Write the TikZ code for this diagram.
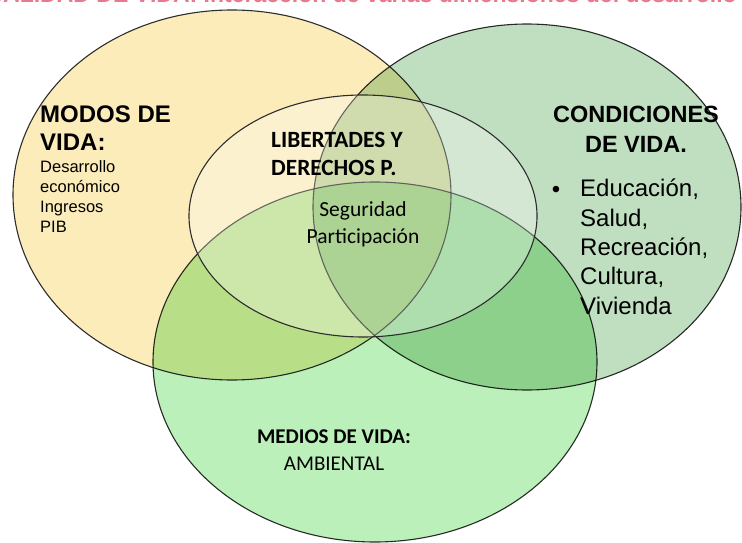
\documentclass[tikz,border=0pt]{standalone}
\usepackage{fontspec}
\setmainfont{Liberation Sans}
\newfontfamily\calibri{Carlito}
\definecolor{modosfill}{RGB}{252,236,186}
\definecolor{condfill}{RGB}{192,222,192}
\definecolor{mediosfill}{RGB}{187,240,187}
\definecolor{titlepink}{RGB}{232,120,140}
\definecolor{vennline}{RGB}{45,45,45}

\begin{document}
\begin{tikzpicture}[x=1pt,y=-1pt,
	venn/.style = {draw=vennline, line width=1.1pt},
	head node/.style = {inner sep=0pt, align=left, font=\fontsize{24}{28}\selectfont\bfseries},
	item node/.style = {inner sep=0pt, align=left, font=\fontsize{16.5}{19.7}\selectfont},
	cal head/.style = {inner sep=0pt, font=\calibri\fontsize{23.3}{28}\selectfont\bfseries},
	cal item/.style = {inner sep=0pt, align=center, font=\calibri\fontsize{21.5}{27}\selectfont}]
	\useasboundingbox (0,0) rectangle (742,543);
	\clip (0,0) rectangle (742,543);
	% cut-off title
	\node[inner sep=0pt, anchor=base east, text=titlepink, font=\fontsize{23}{28}\selectfont\bfseries] (title) at (737,3) {CALIDAD DE VIDA: Interacción de varias dimensiones del desarrollo};
	% the four sets
	\draw[venn, fill=modosfill] (232,195) ellipse [x radius=219pt, y radius=185pt];
	\draw[venn, fill=condfill, blend mode=multiply] (527,207) ellipse [x radius=214pt, y radius=183pt];
	\draw[venn, fill=mediosfill, blend mode=multiply] (375,362) ellipse [x radius=222pt, y radius=180pt];
	\draw[venn, fill=white, fill opacity=.3] (363,216) ellipse [x radius=174pt, y radius=121pt];
	% labels (base = baseline of the last line)
	\node[head node, anchor=base west] (modos) at (40,150) {MODOS DE\\VIDA:};
	\node[item node, anchor=base west] (modositems) at (40,232) {Desarrollo\\económico\\Ingresos\\PIB};
	\node[cal head, align=left, anchor=base west] (libertades) at (271,175) {LIBERTADES Y\\DERECHOS P.};
	\node[cal item, anchor=base] (libitems) at (363,243) {Seguridad\\Participación};
	\node[head node, align=center, font=\fontsize{23.5}{30}\selectfont\bfseries, anchor=base] (cond) at (636,152) {CONDICIONES\\DE VIDA.};
	\node[inner sep=0pt, anchor=base, font=\fontsize{24}{29}\selectfont] (bullet) at (556,197) {•};
	\node[inner sep=0pt, align=left, anchor=base west, font=\fontsize{24}{29.3}\selectfont] (conditems) at (580,314) {Educación,\\Salud,\\Recreación,\\Cultura,\\Vivienda};
	\node[cal head, align=center, font=\calibri\fontsize{21}{27}\selectfont\bfseries, anchor=base] (medios) at (334,470) {MEDIOS DE VIDA:\\\mdseries AMBIENTAL};
\end{tikzpicture}
\end{document}
